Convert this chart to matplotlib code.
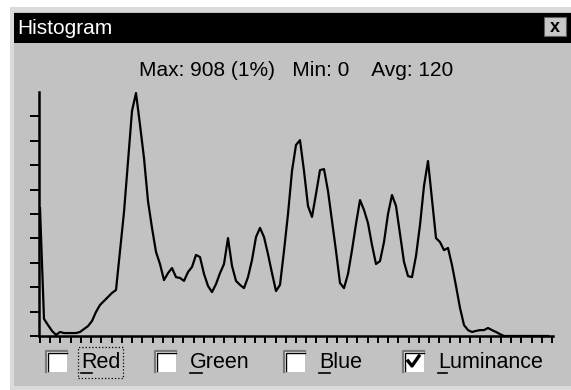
import numpy as np
import matplotlib.pyplot as plt
from matplotlib.patches import Rectangle
from matplotlib.lines import Line2D

W, H = 571, 390
FONT = "Liberation Sans"

# luminance histogram (counts per level)
levels = [0, 1] + list(range(2, 256, 2))
counts = [478, 273,
          64, 41, 19, 4, 15, 11, 11, 11, 11, 15,
          26, 37, 56, 90, 116, 131, 146, 161, 172, 318,
          463, 654, 841, 908, 789, 665, 504, 404, 314, 269,
          209, 235, 254, 220, 217, 206, 239, 258, 303, 295,
          232, 187, 164, 194, 235, 269, 366, 262, 206, 191,
          179, 220, 284, 370, 404, 370, 306, 235, 168, 191,
          318, 456, 617, 714, 732, 617, 486, 445, 531, 620,
          624, 542, 430, 318, 198, 179, 232, 321, 419, 508,
          471, 422, 340, 269, 280, 351, 456, 527, 486, 381,
          277, 224, 220, 299, 415, 561, 654, 508, 366, 351,
          321, 329, 265, 187, 105, 41, 22, 15, 19, 22,
          22, 30, 22, 15, 7,
          0, 0, 0, 0, 0, 0, 0, 0, 0, 0, 0, 0]

stats_text = "Max: 908 (1%)   Min: 0    Avg: 120"
channels = ["Red", "Green", "Blue", "Luminance"]
checked = [False, False, False, True]


def box(x, y, w, h, **kw):
    # rectangle given in screen pixels (top-left origin)
    r = Rectangle((x / W, 1 - (y + h) / H), w / W, h / H,
                  transform=fig.transFigure, zorder=-5, **kw)
    fig.add_artist(r)
    return r


def pline(xs, ys, **kw):
    fig.add_artist(Line2D([x / W for x in xs], [1 - y / H for y in ys],
                          transform=fig.transFigure, **kw))


fig = plt.figure(figsize=(W / 100, H / 100), dpi=100)
fig.patch.set_facecolor("white")

# window frame, body and title bar
box(10, 7, 561, 383, facecolor="#dadada", edgecolor="none")
box(14, 12, 557, 374, facecolor="#c2c2c2", edgecolor="none")
box(14, 13, 557, 30, facecolor="black", edgecolor="none")
fig.text(17 / W, 1 - 29 / H, "Histogram", color="white", fontsize=15,
         family=FONT, va="center", ha="left")
box(544, 17, 22, 19, facecolor="#c8c8c8", edgecolor="#606060", lw=0.8)
fig.text(555 / W, 1 - 27 / H, "x", color="black", fontsize=13,
         family=FONT, weight="bold", va="center", ha="center")

fig.text(296 / W, 1 - 70 / H, stats_text, fontsize=15, family=FONT,
         va="center", ha="center")

# histogram plot
ax = fig.add_axes([39 / W, 1 - 336 / H, 514 / W, 244 / H])
ax.set_zorder(5)
ax.set_facecolor("none")
ax.plot(levels, counts, color="black", lw=1.6, clip_on=False)
ax.set_xlim(-0.5, 256.5)
ax.set_ylim(0, 912)
ax.set_yticks(np.arange(10) * 91.2)
ax.set_xticks(np.linspace(0, 256, 51))
ax.set_xticklabels([])
ax.set_yticklabels([])
for s in ["top", "right"]:
    ax.spines[s].set_visible(False)
for s in ["left", "bottom"]:
    ax.spines[s].set_linewidth(1.8)
    ax.spines[s].set_color("black")
ax.tick_params(axis="y", direction="out", length=6.5, width=1.4, color="black")
ax.tick_params(axis="x", direction="out", length=5, width=1.4, color="black")

# channel check boxes
box_x = [46, 155, 284, 403]
text_x = [81, 190, 319, 438]
under_w = [11, 12, 11, 9]
for name, bx, tx, uw, on in zip(channels, box_x, text_x, under_w, checked):
    box(bx, 351, 21, 21, facecolor="white", edgecolor="none")
    pline([bx, bx, bx + 21], [372, 351, 351], color="#7a7a7a", lw=1.6)
    pline([bx + 1.5, bx + 1.5, bx + 21], [371, 352.5, 352.5], color="black", lw=1.0)
    if on:
        pline([bx + 5, bx + 9, bx + 16], [361, 366, 356], color="black", lw=2.4)
    fig.text(tx / W, 1 - 363 / H, name, fontsize=15.5, family=FONT,
             va="center", ha="left")
    pline([tx, tx + uw], [373, 373], color="black", lw=1.2)

# focus rectangle round "Red"
box(78, 347, 45, 31, facecolor="none", edgecolor="black", lw=0.9, ls=":")

fig.savefig("out.png", dpi=100)
